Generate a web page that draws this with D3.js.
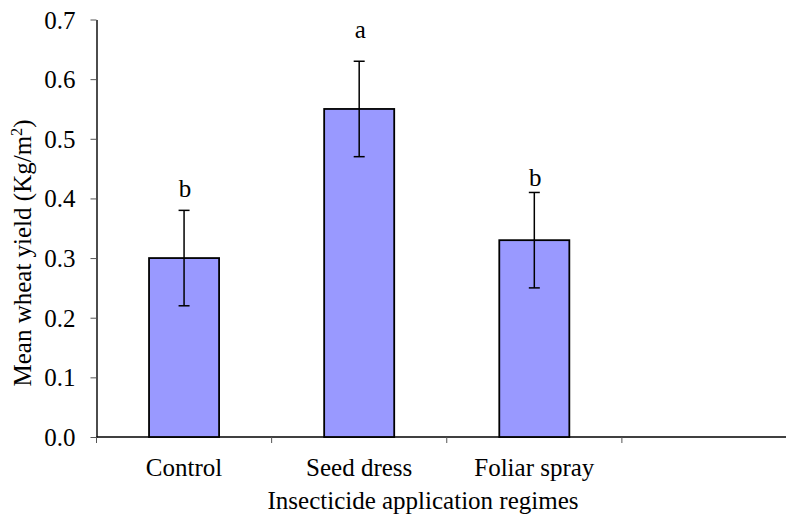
<!DOCTYPE html>
<html>
<head>
<meta charset="utf-8">
<script src="https://cdn.jsdelivr.net/npm/d3@7"></script>
<style>
  html, body { margin: 0; padding: 0; background: #fff; }
  svg { display: block; }
</style>
</head>
<body>
<svg id="chart" width="786" height="516"></svg>
<script>
const categories = ["Control", "Seed dress", "Foliar spray", ""];
const meanYield = [0.30, 0.55, 0.33];
const errorSize = [0.08, 0.08, 0.08];
const groupLetters = ["b", "a", "b"];
const letterPos = [0.402, 0.669, 0.421];
const yTicks = [0.0, 0.1, 0.2, 0.3, 0.4, 0.5, 0.6, 0.7];

(function () {
const FONT = "Liberation Serif, Tinos, Times New Roman, Nimbus Roman, FreeSerif, DejaVu Serif, serif";
const svg = d3.select("#chart");
const mLeft = 96.5, mRight = 797, mTop = 19.5, mBottom = 437;
const fs = 25;

const x = d3.scaleBand().domain(categories).range([mLeft, mRight]).padding(0);
const y = d3.scaleLinear().domain([0, 0.7]).range([mBottom, mTop]);
const barW = x.bandwidth() * 0.4;

// y axis
const yAxis = d3.axisLeft(y).tickValues(yTicks).tickFormat(d3.format(".1f"))
  .tickSizeInner(6).tickSizeOuter(0).tickPadding(15);
const gy = svg.append("g").attr("transform", `translate(${mLeft},0)`).call(yAxis);
gy.attr("font-family", FONT).attr("font-size", fs);
gy.select(".domain").attr("stroke", "#000").attr("stroke-width", 1.4);
gy.selectAll(".tick line").attr("stroke", "#555").attr("stroke-width", 1);
gy.selectAll(".tick text").attr("font-family", FONT).attr("font-size", fs).attr("fill", "#000").attr("dy", "0.34em");

// x axis line
svg.append("line").attr("x1", mLeft).attr("x2", 786).attr("y1", mBottom).attr("y2", mBottom)
  .attr("stroke", "#000").attr("stroke-width", 1.4);
// x tick marks at band boundaries
svg.append("g").selectAll("line").data(categories).join("line")
  .attr("x1", d => x(d)).attr("x2", d => x(d))
  .attr("y1", mBottom).attr("y2", mBottom + 6)
  .attr("stroke", "#555").attr("stroke-width", 1);
// x tick labels
svg.append("g").selectAll("text").data(categories.filter(d => d !== "")).join("text")
  .attr("x", d => x(d) + x.bandwidth() / 2).attr("y", 476)
  .attr("text-anchor", "middle").attr("font-family", FONT).attr("font-size", fs).text(d => d);

// bars
const data = meanYield.map((v, i) => ({ c: categories[i], v, e: errorSize[i], l: groupLetters[i], lp: letterPos[i] }));
svg.append("g").selectAll("rect").data(data).join("rect")
  .attr("x", d => x(d.c) + (x.bandwidth() - barW) / 2)
  .attr("y", d => y(d.v))
  .attr("width", barW)
  .attr("height", d => y(0) - y(d.v))
  .attr("fill", "#9999FF").attr("stroke", "#000").attr("stroke-width", 1.8);

// error bars
const eb = svg.append("g").attr("stroke", "#000").attr("stroke-width", 1.5);
data.forEach(d => {
  const cx = x(d.c) + x.bandwidth() / 2;
  eb.append("line").attr("x1", cx).attr("x2", cx).attr("y1", y(d.v - d.e)).attr("y2", y(d.v + d.e));
  eb.append("line").attr("x1", cx - 5.5).attr("x2", cx + 5.5).attr("y1", y(d.v + d.e)).attr("y2", y(d.v + d.e));
  eb.append("line").attr("x1", cx - 5.5).attr("x2", cx + 5.5).attr("y1", y(d.v - d.e)).attr("y2", y(d.v - d.e));
});

// letters
svg.append("g").selectAll("text").data(data).join("text")
  .attr("x", d => x(d.c) + x.bandwidth() / 2 + 1)
  .attr("y", d => y(d.lp))
  .attr("text-anchor", "middle").attr("font-family", FONT).attr("font-size", fs).text(d => d.l);

// axis titles
svg.append("text").attr("x", 423).attr("y", 509).attr("text-anchor", "middle")
  .attr("font-family", FONT).attr("font-size", fs).text("Insecticide application regimes");

const yt = svg.append("text").attr("transform", "translate(31,253) rotate(-90)")
  .attr("text-anchor", "middle").attr("font-family", FONT).attr("font-size", fs);
yt.append("tspan").text("Mean wheat yield (Kg/m");
yt.append("tspan").attr("baseline-shift", "super").attr("font-size", fs * 0.65).text("2");
yt.append("tspan").text(")");
})();
</script>
</body>
</html>
